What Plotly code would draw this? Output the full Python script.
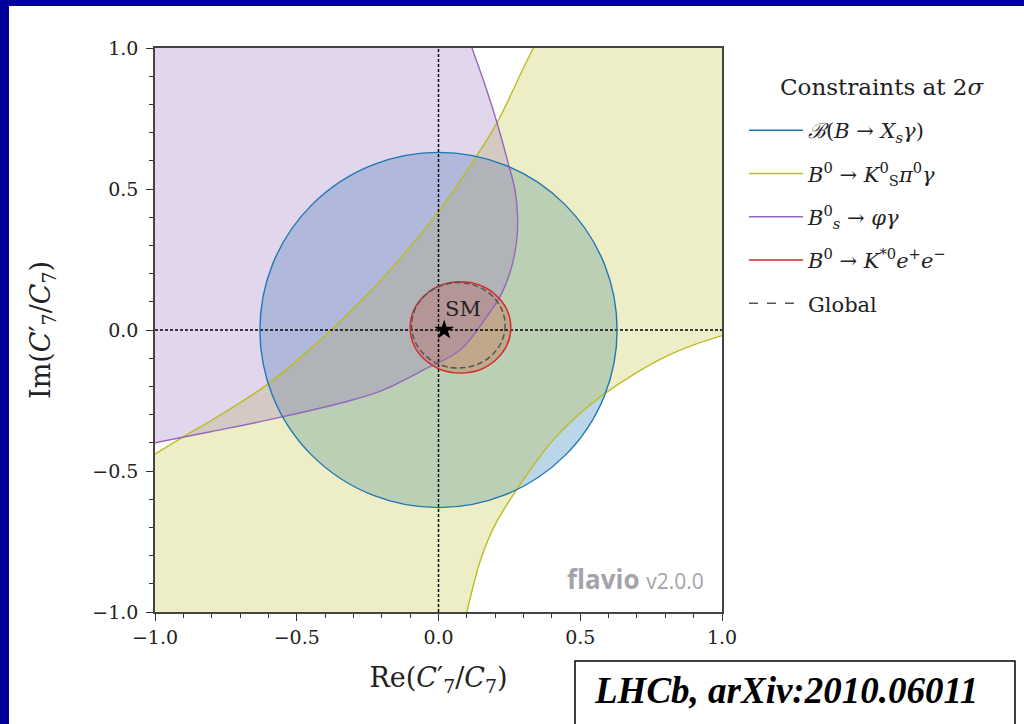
import plotly.graph_objects as go

# ---------------- data ----------------
axis_range = [-1.0, 1.0]
tick_vals = [-1.0, -0.5, 0.0, 0.5, 1.0]
tick_text = ["\u22121.0", "\u22120.5", "0.0", "0.5", "1.0"]

# B -> X_s gamma : disc (centre, radius)
bxs_center = (0.0, 0.0)
bxs_radius = 0.63

# B0 -> K*0 e+ e- : ellipse bounds (re_min, re_max, im_min, im_max)
kee_bounds = (-0.100, 0.255, -0.153, 0.171)
# Global fit : ellipse bounds
glob_bounds = (-0.095, 0.235, -0.135, 0.168)

# B0 -> KS pi0 gamma : band between two boundary curves
ksp_upper_re = [-1.0, -0.877, -0.8, -0.6, -0.4, -0.2, 0.0, 0.1, 0.205, 0.3, 0.335]
ksp_upper_im = [-0.44, -0.365, -0.32, -0.19, -0.02, 0.18, 0.42, 0.565, 0.733, 0.93, 1.0]
ksp_lower_re = [0.10, 0.15, 0.2, 0.28, 0.4, 0.5, 0.58, 0.7, 0.8, 0.9, 1.0]
ksp_lower_im = [-1.0, -0.81, -0.69, -0.56, -0.395, -0.295, -0.23, -0.15, -0.095, -0.053, -0.02]

# Bs0 -> phi gamma : boundary curve (region lies to the upper left)
phi_re = [0.118, 0.170, 0.207, 0.246, 0.270, 0.279, 0.276, 0.258, 0.223, 0.170,
          0.076, -0.05, -0.196, -0.31, -0.56, -0.80, -1.0]
phi_im = [1.0, 0.851, 0.733, 0.591, 0.496, 0.402, 0.319, 0.224, 0.130, 0.047,
          -0.071, -0.14, -0.213, -0.25, -0.31, -0.36, -0.40]

# Standard-model point
sm_re = [0.02]
sm_im = [0.0]

legend_title = "Constraints at 2<i>\u03c3</i>"
legend_names = [
    "<i>\u212c</i>(<i>B</i> \u2192 <i>X<sub>s</sub>\u03b3</i>)",
    "<i>B</i><sup>0</sup> \u2192 <i>K</i><sup>0</sup><sub>S</sub><i>\u03c0</i><sup>0</sup><i>\u03b3</i>",
    "<i>B</i><sup>0</sup><sub><i>s</i></sub> \u2192 <i>\u03c6\u03b3</i>",
    "<i>B</i><sup>0</sup> \u2192 <i>K</i><sup>*0</sup><i>e</i><sup>+</sup><i>e</i><sup>\u2212</sup>",
    "Global",
]

# ---------------- styles ----------------
C_BLUE, C_YEL, C_PUR, C_RED, C_GLOB = "#1f77b4", "#bcbd22", "#9467bd", "#d62728", "#555555"
F_BLUE = "rgba(31,119,180,0.30)"
F_YEL = "rgba(188,189,34,0.26)"
F_PUR = "rgba(148,103,189,0.27)"
F_RED = "rgba(214,39,40,0.30)"
SERIF = "DejaVu Serif"
TXT = "#222222"

W, H = 1024, 724
ML, MR, MT, MB = 155, 302, 48, 112
PW, PH = W - ML - MR, H - MT - MB


def px(xp):
    return (xp - ML) / PW


def py(yp):
    return (H - MB - yp) / PH


lo, hi = axis_range
fig = go.Figure()

# KS pi0 gamma band fill
fig.add_trace(go.Scatter(
    x=ksp_upper_re + [hi] + ksp_lower_re[::-1] + [lo],
    y=ksp_upper_im + [hi] + ksp_lower_im[::-1] + [lo],
    fill="toself", fillcolor=F_YEL, mode="lines", line=dict(width=0),
    hoverinfo="skip", showlegend=False))
# phi gamma fill
fig.add_trace(go.Scatter(
    x=phi_re + [lo], y=phi_im + [hi],
    fill="toself", fillcolor=F_PUR, mode="lines", line=dict(width=0),
    hoverinfo="skip", showlegend=False))

# boundary lines
for xs, ys, c in [(ksp_upper_re, ksp_upper_im, C_YEL), (ksp_lower_re, ksp_lower_im, C_YEL),
                  (phi_re, phi_im, C_PUR)]:
    fig.add_trace(go.Scatter(x=xs, y=ys, mode="lines",
                             line=dict(color=c, width=1.4, shape="spline", smoothing=1.0),
                             hoverinfo="skip", showlegend=False))

# zero lines
fig.add_trace(go.Scatter(x=axis_range, y=[0, 0], mode="lines",
                         line=dict(color="black", width=1.5, dash="3px,2px"),
                         hoverinfo="skip", showlegend=False))
fig.add_trace(go.Scatter(x=[0, 0], y=axis_range, mode="lines",
                         line=dict(color="black", width=1.5, dash="3px,2px"),
                         hoverinfo="skip", showlegend=False))

# SM point
fig.add_trace(go.Scatter(x=sm_re, y=sm_im, mode="markers",
                         marker=dict(symbol="star", size=15, color="black"),
                         hoverinfo="skip", showlegend=False))

# legend entries
for name, c, dash in zip(legend_names, [C_BLUE, C_YEL, C_PUR, C_RED, C_GLOB],
                         ["solid", "solid", "solid", "solid", "dash"]):
    fig.add_trace(go.Scatter(x=[None], y=[None], mode="lines", name=name,
                             legendgroup=name,
                             line=dict(color=c, width=1.5, dash=dash)))

cx, cy = bxs_center
shapes = [
    dict(type="circle", xref="x", yref="y", x0=cx - bxs_radius, x1=cx + bxs_radius,
         y0=cy - bxs_radius, y1=cy + bxs_radius, fillcolor=F_BLUE, line=dict(width=0), layer="below"),
    dict(type="circle", xref="x", yref="y", x0=cx - bxs_radius, x1=cx + bxs_radius,
         y0=cy - bxs_radius, y1=cy + bxs_radius, line=dict(color=C_BLUE, width=1.4), layer="above"),
    dict(type="circle", xref="x", yref="y", x0=kee_bounds[0], x1=kee_bounds[1],
         y0=kee_bounds[2], y1=kee_bounds[3], fillcolor=F_RED, line=dict(width=0), layer="below"),
    dict(type="circle", xref="x", yref="y", x0=kee_bounds[0], x1=kee_bounds[1],
         y0=kee_bounds[2], y1=kee_bounds[3], line=dict(color=C_RED, width=1.4), layer="above"),
    dict(type="circle", xref="x", yref="y", x0=glob_bounds[0], x1=glob_bounds[1],
         y0=glob_bounds[2], y1=glob_bounds[3], line=dict(color=C_GLOB, width=1.5, dash="6px,3px"),
         layer="above"),
    # slide frame (dark blue bands at left and top)
    dict(type="rect", xref="paper", yref="paper", x0=px(-2), x1=px(9), y0=py(H + 2), y1=py(-2),
         fillcolor="#000099", line=dict(width=0)),
    dict(type="rect", xref="paper", yref="paper", x0=px(-2), x1=px(W + 2), y0=py(6), y1=py(-2),
         fillcolor="#000099", line=dict(width=0)),
    # citation box
    dict(type="rect", xref="paper", yref="paper", x0=px(575), x1=px(1015), y0=py(760), y1=py(661),
         fillcolor="white", line=dict(color="black", width=1.5)),
]

annotations = [
    dict(text=legend_title, x=px(882), y=py(87), xref="paper", yref="paper",
         xanchor="center", yanchor="middle", showarrow=False,
         font=dict(family=SERIF, size=23, color=TXT)),
    dict(text="SM", x=0.085, y=0.074, xref="x", yref="y", showarrow=False,
         font=dict(family=SERIF, size=21, color=TXT)),
    dict(text="<b>flavio</b> <span style='font-size:21px'>v2.0.0</span>",
         x=px(706), y=py(579), xref="paper", yref="paper", xanchor="right", yanchor="middle",
         showarrow=False, font=dict(family="Open Sans", size=26, color="#a3a3ab")),
    dict(text="<b><i>LHCb, arXiv:2010.06011</i></b>", x=px(786), y=py(690),
         xref="paper", yref="paper", xanchor="center", yanchor="middle", showarrow=False,
         font=dict(family="Liberation Serif", size=37, color="black")),
]

axis_common = dict(
    range=axis_range, tickvals=tick_vals, ticktext=tick_text,
    ticks="outside", ticklen=7, tickwidth=1.2, tickcolor="#333",
    showline=True, linecolor="#444", linewidth=1.5, mirror=True,
    showgrid=False, zeroline=False,
    minor=dict(dtick=0.1, tick0=-1.0, ticks="outside", ticklen=4, tickwidth=1,
               tickcolor="#333", showgrid=False),
    tickfont=dict(family=SERIF, size=19, color=TXT),
)

fig.update_layout(
    width=W, height=H,
    margin=dict(l=ML, r=MR, t=MT, b=MB, autoexpand=False),
    paper_bgcolor="white", plot_bgcolor="white",
    xaxis=dict(**axis_common,
               title=dict(text="Re(<i>C</i>\u2032<sub>7</sub>/<i>C</i><sub>7</sub>)",
                          font=dict(family=SERIF, size=27, color=TXT), standoff=22)),
    yaxis=dict(**axis_common, ticklabelstandoff=4,
               title=dict(text="Im(<i>C</i>\u2032<sub>7</sub>/<i>C</i><sub>7</sub>)",
                          font=dict(family=SERIF, size=27, color=TXT), standoff=34)),
    legend=dict(x=px(744), y=py(110), xanchor="left", yanchor="top",
                font=dict(family=SERIF, size=21, color=TXT),
                bgcolor="rgba(0,0,0,0)", itemwidth=54, traceorder="grouped",
                tracegroupgap=13),
    shapes=shapes, annotations=annotations,
    showlegend=True,
)

fig.write_html("out.html", config={"displayModeBar": False},
               post_script="document.body.style.margin='0';document.body.style.padding='0';"
                           "document.body.style.overflow='hidden';")
